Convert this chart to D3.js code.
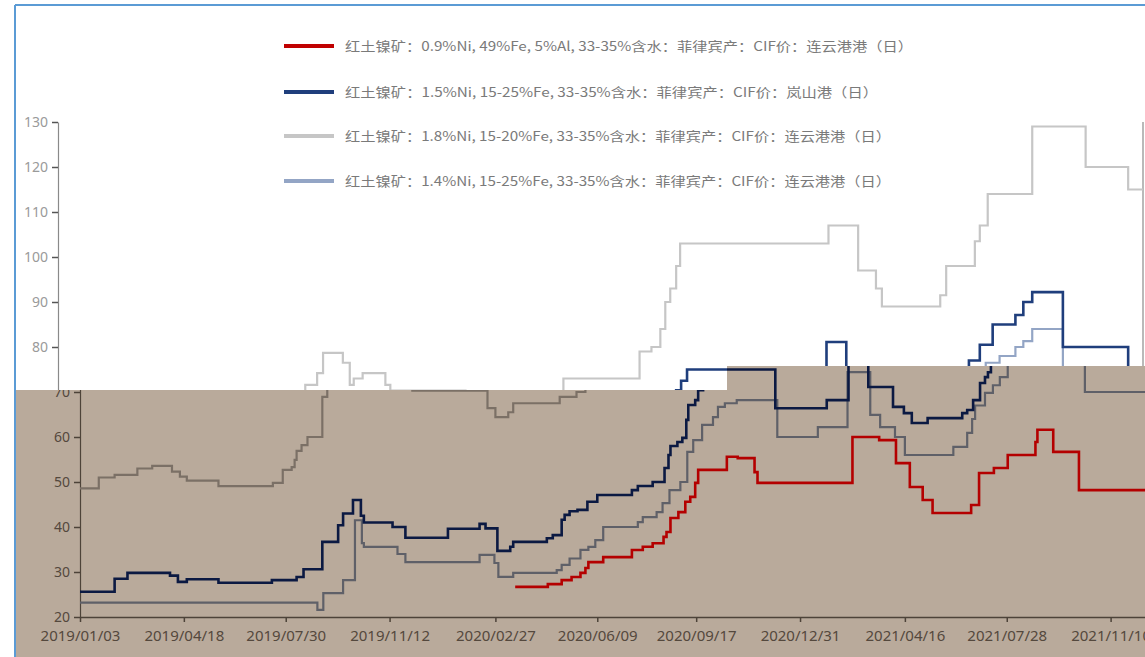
<!DOCTYPE html>
<html><head><meta charset="utf-8">
<script src="https://cdn.jsdelivr.net/npm/d3@7"></script>
<style>body{margin:0;background:#fff;} svg{display:block;}</style>
</head><body>
<svg id="c" width="1145" height="657"></svg>
<script>
// ---------------- data ----------------
const seriesNames = [
  "红土镍矿：0.9%Ni, 49%Fe, 5%Al, 33-35%含水：菲律宾产：CIF价：连云港港（日）",
  "红土镍矿：1.5%Ni, 15-25%Fe, 33-35%含水：菲律宾产：CIF价：岚山港（日）",
  "红土镍矿：1.8%Ni, 15-20%Fe, 33-35%含水：菲律宾产：CIF价：连云港港（日）",
  "红土镍矿：1.4%Ni, 15-25%Fe, 33-35%含水：菲律宾产：CIF价：连云港港（日）"
];
const startDate = "2019-01-03";
const endDate = "2022-01-04";
const xTickDates = ["2019-01-03","2019-04-18","2019-07-30","2019-11-12","2020-02-27","2020-06-09",
  "2020-09-17","2020-12-31","2021-04-16","2021-07-28","2021-11-10"];
const yTickValues = [20,30,40,50,60,70,80,90,100,110,120,130];

// 0.9%Ni (step change points)
const ni09 = [["2020-03-18",26.7],["2020-04-20",27.3],["2020-05-04",28.2],["2020-05-14",28.9],["2020-05-23",29.8],
  ["2020-05-28",30.9],["2020-05-31",32.2],["2020-06-15",33.3],["2020-07-14",34.9],["2020-07-25",35.6],["2020-08-04",36.4],
  ["2020-08-15",37.8],["2020-08-18",38.9],["2020-08-22",42],["2020-08-30",43.3],["2020-09-06",45.6],["2020-09-11",46.7],
  ["2020-09-16",49.8],["2020-09-19",52.7],["2020-10-18",55.6],["2020-10-29",55.3],["2020-11-15",52.2],["2020-11-18",49.8],
  ["2021-02-22",60],["2021-03-21",59.3],["2021-04-07",54.2],["2021-04-21",48.9],["2021-05-04",46],["2021-05-14",43.1],
  ["2021-06-22",44.9],["2021-06-30",52],["2021-07-15",53.1],["2021-07-29",56],["2021-08-26",58.9],["2021-08-28",61.6],
  ["2021-09-13",56.7],["2021-10-09",48.2],["2022-01-04",48.2]];
// 1.5%Ni
const ni15 = [["2019-01-03",25.6],["2019-02-07",28.5],["2019-02-20",29.8],["2019-04-04",29.2],["2019-04-12",27.8],
  ["2019-04-21",28.4],["2019-05-23",27.6],["2019-07-16",28.2],["2019-08-10",28.9],["2019-08-17",30.6],["2019-09-05",36.7],
  ["2019-09-21",40.4],["2019-09-26",43],["2019-10-06",46],["2019-10-14",42.5],["2019-10-17",41],["2019-11-15",40],
  ["2019-11-28",37.6],["2020-01-10",39.6],["2020-02-11",40.7],["2020-02-17",39.7],["2020-02-29",34.7],["2020-03-13",35.6],
  ["2020-03-16",36.7],["2020-04-19",37.5],["2020-04-25",38.2],["2020-05-04",41.6],["2020-05-07",42.7],["2020-05-12",43.5],
  ["2020-05-20",43.8],["2020-05-30",45.6],["2020-06-09",47.1],["2020-07-14",48.2],["2020-07-20",49.1],["2020-08-04",50],
  ["2020-08-16",53.1],["2020-08-20",56],["2020-08-22",58],["2020-08-29",58.9],["2020-09-03",59.8],["2020-09-07",63.8],
  ["2020-09-09",67.1],["2020-09-16",68.2],["2020-09-19",70.4],["2020-09-24",72.5],["2020-09-30",75],["2020-12-06",66.4],
  ["2021-01-27",68.2],["2021-02-18",81.1],["2021-03-10",71.1],["2021-04-04",66.7],["2021-04-15",65.3],["2021-04-23",63.1],
  ["2021-05-09",64.2],["2021-06-13",65.3],["2021-06-18",66],["2021-06-24",68.2],["2021-07-01",72],["2021-07-06",73.3],
  ["2021-07-09",74.4],["2021-07-12",77],["2021-07-23",80.5],["2021-08-05",85],["2021-08-28",87.1],["2021-09-05",90],
  ["2021-09-14",92.2],["2021-10-15",80],["2021-12-20",75.5],["2022-01-04",75.5]];
// 1.8%Ni
const ni18 = [["2019-01-03",48.6],["2019-01-22",51],["2019-02-07",51.6],["2019-03-02",53],["2019-03-17",53.6],
  ["2019-04-06",52.3],["2019-04-14",51.2],["2019-04-21",50.3],["2019-05-23",49.1],["2019-07-17",49.8],["2019-07-27",52.7],
  ["2019-08-05",53.3],["2019-08-08",54.9],["2019-08-10",56.9],["2019-08-15",58.2],["2019-08-21",60],["2019-09-05",68.9],
  ["2019-09-10",71.6],["2019-09-22",74.2],["2019-09-28",78.7],["2019-10-18",76.5],["2019-10-25",71.6],["2019-10-29",73],
  ["2019-11-07",74.2],["2019-11-30",71.6],["2019-12-05",70.3],["2020-02-19",66.4],["2020-02-27",64.4],["2020-03-11",65.5],
  ["2020-03-16",67.5],["2020-05-02",68.9],["2020-05-19",70],["2020-05-28",73],["2020-08-13",79],["2020-08-25",80],
  ["2020-09-03",84],["2020-09-08",90],["2020-09-13",93],["2020-09-19",98],["2020-09-23",103],["2021-02-20",107],
  ["2021-03-22",97],["2021-04-09",93],["2021-04-15",89],["2021-06-13",91.5],["2021-06-19",98],["2021-07-18",103.5],
  ["2021-07-23",107],["2021-07-31",114],["2021-09-14",129],["2021-11-07",120],["2021-12-20",115],["2022-01-04",115]];
// 1.4%Ni
const ni14 = [["2019-01-03",23.2],["2019-08-31",21.6],["2019-09-06",25.3],["2019-09-26",28.2],["2019-10-08",41.5],
  ["2019-10-15",36.4],["2019-10-17",35.6],["2019-11-20",34],["2019-11-28",32.2],["2020-02-11",33.8],["2020-02-26",32],
  ["2020-03-01",28.9],["2020-03-16",29.8],["2020-04-29",30.4],["2020-05-04",31.6],["2020-05-12",33],["2020-05-23",34.9],
  ["2020-05-31",35.6],["2020-06-07",37.1],["2020-06-15",40],["2020-07-20",41.1],["2020-07-25",42.2],["2020-08-08",43.3],
  ["2020-08-14",45.3],["2020-08-21",48.2],["2020-09-01",50],["2020-09-08",56.7],["2020-09-14",59.3],["2020-09-23",62.7],
  ["2020-10-04",64.4],["2020-10-09",66.7],["2020-10-16",67.5],["2020-10-28",68.2],["2020-12-08",60],["2021-01-18",62.2],
  ["2021-02-17",74.4],["2021-03-12",64.9],["2021-03-22",62.2],["2021-04-06",60],["2021-04-16",56],["2021-06-04",57.8],
  ["2021-06-18",60.9],["2021-06-23",64],["2021-06-26",67],["2021-07-06",69.8],["2021-07-14",71.5],["2021-07-21",73.3],
  ["2021-07-29",76.5],["2021-08-12",78],["2021-08-28",80],["2021-09-05",81.3],["2021-09-14",84],["2021-10-15",70],
  ["2022-01-04",70]];

// ---------------- drawing ----------------
const parse = d3.timeParse("%Y-%m-%d");
const svg = d3.select("#c");
const x = d3.scaleTime().domain([parse(startDate), parse(endDate)]).range([58, 1143]);
const y = d3.scaleLinear().domain([20, 130]).range([617, 122]);

const topPal = {axis:"#8a8a8a", tick:"#555", label:"#9a9a9a",
  c09:"#c00000", c15:"#1f3e7c", c18:"#c6c6c6", c14:"#93a5c5"};
const botPal = {bg:"#b9aa9b", axis:"#4d4339", tick:"#4d4339", label:"#54483d",
  c09:"#b40000", c15:"#0b1942", c18:"#7b7066", c14:"#5f6068"};

const defs = svg.append("defs");
const topShape = "M0,0H1145V366H727V390H0Z";
const botShape = "M0,390H727V366H1145V657H0Z";
defs.append("clipPath").attr("id","clipTop").append("path").attr("d", topShape);
defs.append("clipPath").attr("id","clipBot").append("path").attr("d", botShape);

svg.append("rect").attr("width",1145).attr("height",657).attr("fill","#fff");

function drawChart(g, pal, yVals, withX) {
  const ya = g.append("g").attr("transform", `translate(${x.range()[0]},0)`)
    .call(d3.axisLeft(y).tickValues(yVals).tickSize(6).tickSizeOuter(0).tickPadding(4));
  ya.select(".domain").attr("stroke", pal.axis).attr("stroke-width", 1.2);
  ya.selectAll(".tick line").attr("stroke", pal.tick).attr("stroke-width", 1.5);
  ya.selectAll(".tick text").attr("fill", pal.label).attr("font-size", 14).attr("font-family", "'Noto Sans', sans-serif");

  g.append("line").attr("x1", x.range()[1]).attr("x2", x.range()[1])
    .attr("y1", y(130)).attr("y2", y(20)).attr("stroke", pal.axis).attr("stroke-width", 1.2);

  if (withX) {
    const xa = g.append("g").attr("transform", `translate(0,${y(20)})`)
      .call(d3.axisBottom(x).tickValues(xTickDates.map(parse)).tickFormat(d3.timeFormat("%Y/%m/%d"))
        .tickSize(5).tickSizeOuter(0).tickPadding(8));
    xa.select(".domain").attr("stroke", pal.axis).attr("stroke-width", 1.5);
    xa.selectAll(".tick line").attr("stroke", pal.tick).attr("stroke-width", 1.5);
    xa.selectAll(".tick text").attr("fill", pal.label).attr("font-size", 15).attr("font-family", "'Noto Sans', sans-serif");
  }

  const line = d3.line().x(d => x(parse(d[0]))).y(d => y(d[1])).curve(d3.curveStepAfter);
  const order = [[ni18, pal.c18, 2.2], [ni14, pal.c14, 2.2], [ni15, pal.c15, 2.6], [ni09, pal.c09, 2.6]];
  order.forEach(([data, col, w]) => {
    g.append("path").datum(data).attr("d", line).attr("fill", "none")
      .attr("stroke", col).attr("stroke-width", w).attr("stroke-linejoin", "miter");
  });
}

// upper (untinted) part
const gTop = svg.append("g").attr("clip-path", "url(#clipTop)");
drawChart(gTop, topPal, yTickValues.filter(v => v >= 80), false);

// legend (upper part only)
const legCols = [topPal.c09, topPal.c15, topPal.c18, topPal.c14];
const legY = [46, 92, 136, 181];
const legLen = [568, 533, 546, 546];
const leg = gTop.append("g");
seriesNames.forEach((name, i) => {
  leg.append("line").attr("x1", 284).attr("x2", 334).attr("y1", legY[i]).attr("y2", legY[i])
    .attr("stroke", legCols[i]).attr("stroke-width", 4);
  leg.append("text").attr("x", 345).attr("y", legY[i]).attr("dy", "0.35em")
    .attr("font-family", "'Noto Sans CJK SC', sans-serif").attr("font-size", 13)
    .attr("fill", "#7a7a7a").attr("textLength", legLen[i]).attr("lengthAdjust", "spacingAndGlyphs")
    .text(name);
});

// lower (tinted, shifted) part
const gBotOuter = svg.append("g").attr("clip-path", "url(#clipBot)");
gBotOuter.append("rect").attr("x", 16).attr("y", 0).attr("width", 1145).attr("height", 657).attr("fill", botPal.bg);
const gBot = gBotOuter.append("g").attr("transform", "translate(22,0)");
drawChart(gBot, botPal, yTickValues.filter(v => v <= 70), true);

// frame
svg.append("line").attr("x1", 15).attr("x2", 1145).attr("y1", 5).attr("y2", 5).attr("stroke", "#5b9bd5").attr("stroke-width", 2);
svg.append("line").attr("x1", 15).attr("x2", 15).attr("y1", 5).attr("y2", 657).attr("stroke", "#5b9bd5").attr("stroke-width", 2);
</script>
</body></html>
